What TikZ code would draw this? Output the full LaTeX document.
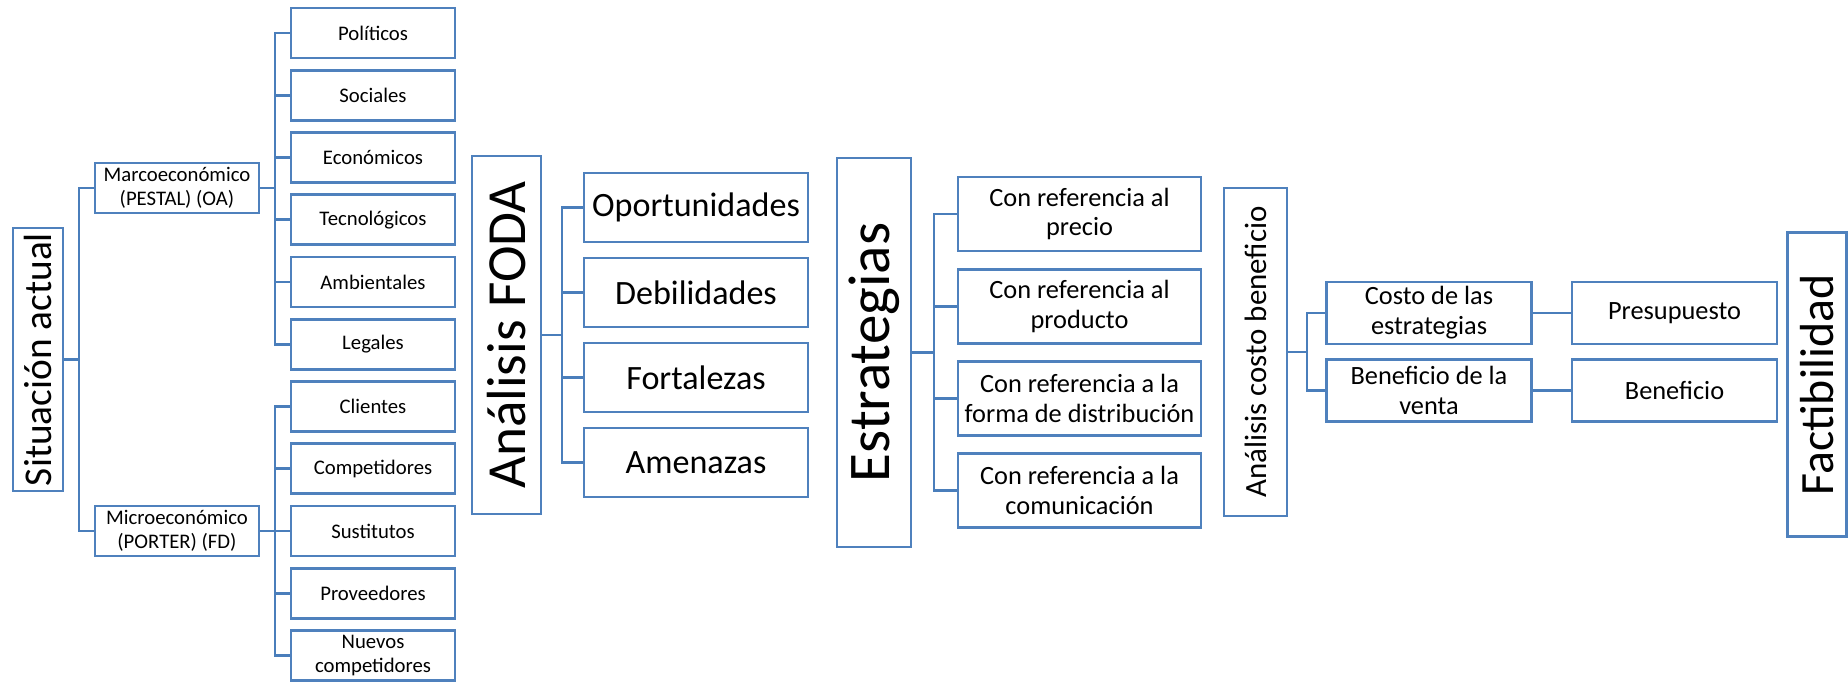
\documentclass[tikz,border=0pt]{standalone}
\usepackage{fontspec}
\setmainfont{Carlito}
\definecolor{azulcaja}{HTML}{4F81BD}
\definecolor{azullinea}{HTML}{4A7EBB}
\newcommand{\letrachica}{\fontsize{11.8}{13.6}\selectfont}
\newcommand{\letramedia}{\fontsize{15}{17}\selectfont}
\newcommand{\letrafoda}{\fontsize{19.4}{22}\selectfont}
\tikzset{
  caja/.style={draw=azulcaja,line width=1.5pt,inner sep=0pt,align=center},
  chica/.style={caja,minimum width=3.28cm,minimum height=1cm,font=\letrachica},
  costo/.style={caja,minimum width=4.1cm,minimum height=1.24cm,font=\letramedia},
  enlace/.style={draw=azullinea,line width=1.6pt},
}

\begin{document}
\begin{tikzpicture}[x=0.02cm,y=-0.02cm]
\useasboundingbox (0,0) rectangle (1848,681);

\node[caja,rotate=90,minimum width=5.26cm,minimum height=1cm,font=\fontsize{22.4}{26}\selectfont] (sit) at (38,359.5) {Situación actual};
\node[chica] (marco) at (177,188) {Marcoeconómico\\(PESTAL) (OA)};
\node[chica] (micro) at (177,531) {Microeconómico\\(PORTER) (FD)};
\foreach \nom/\txt [count=\i from 0] in {pol/Políticos,soc/Sociales,eco/Económicos,tec/Tecnológicos,amb/Ambientales,leg/Legales,cli/Clientes,com/Competidores,sus/Sustitutos,pro/Proveedores,nue/{Nuevos\\competidores}}
  \node[chica] (\nom) at (373,33+62.25*\i) {\txt};

\node[caja,rotate=90,minimum width=7.16cm,minimum height=1.38cm,font=\fontsize{31.4}{36}\selectfont] (foda) at (506.5,335) {Análisis FODA};
\foreach \nom/\txt [count=\i from 0] in {opo/Oportunidades,deb/Debilidades,for/Fortalezas,ame/Amenazas}
  \node[caja,minimum width=4.48cm,minimum height=1.38cm,font=\letrafoda] (\nom) at (696,207.5+85*\i) {\txt};

\node[caja,rotate=90,minimum width=7.78cm,minimum height=1.48cm,font=\fontsize{33.6}{38}\selectfont] (estr) at (874,352.5) {Estrategias};
\foreach \nom/\txt [count=\i from 0] in {pre/{Con referencia al\\precio},prd/{Con referencia al\\producto},dis/{Con referencia a la\\forma de distribución},cmu/{Con referencia a la\\comunicación}}
  \node[caja,minimum width=4.86cm,minimum height=1.48cm,font=\letramedia] (\nom) at (1079.5,214+92.2*\i) {\txt};

\node[caja,rotate=90,minimum width=6.56cm,minimum height=1.26cm,font=\fontsize{17.6}{20}\selectfont] (acb) at (1255.5,352) {Análisis costo beneficio};
\node[costo] (cos) at (1429,313) {Costo de las\\estrategias};
\node[costo] (ven) at (1429,390.5) {Beneficio de la\\venta};
\node[costo] (psp) at (1674.5,313) {Presupuesto};
\node[costo] (ben) at (1674.5,390.5) {Beneficio};

\node[caja,rotate=90,minimum width=6.08cm,minimum height=1.18cm,font=\fontsize{27.2}{31}\selectfont] (fac) at (1817,384.7) {Factibilidad};

\coordinate (ts) at (79,359.5);
\draw[enlace] (sit.south) -- (ts);
\draw[enlace] (ts) |- (marco.west);
\draw[enlace] (ts) |- (micro.west);
\coordinate (tm) at (275,188);
\draw[enlace] (marco.east) -- (tm);
\foreach \n in {pol,soc,eco,tec,amb,leg} \draw[enlace] (tm) |- (\n.west);
\coordinate (tn) at (275,531);
\draw[enlace] (micro.east) -- (tn);
\foreach \n in {cli,com,sus,pro,nue} \draw[enlace] (tn) |- (\n.west);
\coordinate (tf) at (562,335);
\draw[enlace] (foda.south) -- (tf);
\foreach \n in {opo,deb,for,ame} \draw[enlace] (tf) |- (\n.west);
\coordinate (te) at (934,352.5);
\draw[enlace] (estr.south) -- (te);
\foreach \n in {pre,prd,dis,cmu} \draw[enlace] (te) |- (\n.west);
\coordinate (ta) at (1307,352);
\draw[enlace] (acb.south) -- (ta);
\foreach \n in {cos,ven} \draw[enlace] (ta) |- (\n.west);
\draw[enlace] (cos.east) -- (psp.west);
\draw[enlace] (ven.east) -- (ben.west);
\end{tikzpicture}
\end{document}
